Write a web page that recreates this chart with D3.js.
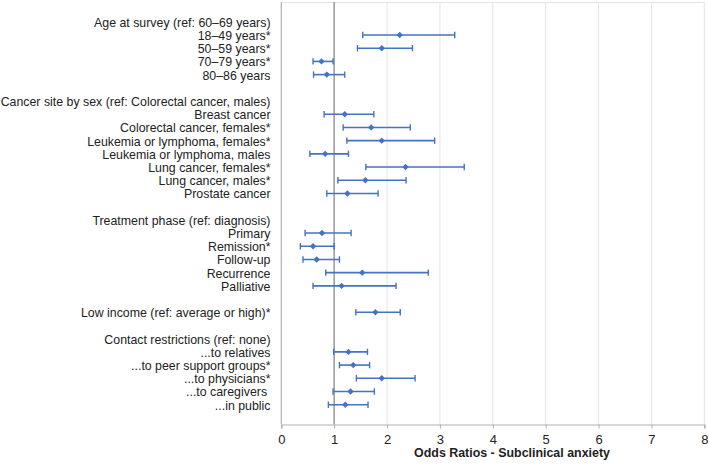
<!DOCTYPE html>
<html>
<head>
<meta charset="utf-8">
<script src="https://cdn.jsdelivr.net/npm/d3@7"></script>
<style>
  html, body { margin: 0; padding: 0; background: #fff; }
  svg { display: block; font-family: "Liberation Sans", Arial, Helvetica, sans-serif; }
</style>
</head>
<body>
<svg id="chart" width="709" height="468"></svg>
<script>
// Row labels (headers have null values; "" = blank spacer row)
const labels = [
  "Age at survey (ref: 60\u201369 years)",
  "18\u201349 years*",
  "50\u201359 years*",
  "70\u201379 years*",
  "80\u201386 years",
  "",
  "Cancer site by sex (ref: Colorectal cancer, males)",
  "Breast cancer",
  "Colorectal cancer, females*",
  "Leukemia or lymphoma, females*",
  "Leukemia or lymphoma, males",
  "Lung cancer, females*",
  "Lung cancer, males*",
  "Prostate cancer",
  "",
  "Treatment phase (ref: diagnosis)",
  "Primary",
  "Remission*",
  "Follow-up",
  "Recurrence",
  "Palliative",
  "",
  "Low income (ref: average or high)*",
  "",
  "Contact restrictions (ref: none)",
  "...to relatives",
  "...to peer support groups*",
  "...to physicians*",
  "...to caregivers ",
  "...in public"
];
const oddsRatio = [null,2.24,1.90,0.76,0.86,null,null,1.20,1.70,1.90,0.83,2.35,1.59,1.25,null,null,0.77,0.60,0.67,1.53,1.14,null,1.78,null,null,1.27,1.36,1.90,1.31,1.21];
const ciLow     = [null,1.54,1.44,0.60,0.61,null,null,0.81,1.17,1.24,0.54,1.60,1.07,0.86,null,null,0.45,0.36,0.41,0.84,0.60,null,1.41,null,null,0.99,1.10,1.42,0.98,0.89];
const ciHigh    = [null,3.28,2.48,0.98,1.20,null,null,1.75,2.44,2.90,1.27,3.46,2.36,1.83,null,null,1.32,1.00,1.10,2.78,2.17,null,2.25,null,null,1.63,1.67,2.53,1.76,1.64];
const xTicks = [0,1,2,3,4,5,6,7,8];
const xTitle = "Odds Ratios - Subclinical anxiety";
const refValue = 1;

(function () {
const svg = d3.select("#chart");
const pLeft = 281.3, pRight = 704.3, pTop = 2, pBottom = 424.5;

const x = d3.scaleLinear().domain([0, 8]).range([pLeft, pRight]);
// 30 rows plus one empty slot above and below
const idx = d3.range(-1, labels.length + 1);
const y = d3.scalePoint().domain(idx).range([pTop, pBottom]).padding(0.5);

const blue = "#4472C4";

// gridlines
svg.append("g").selectAll("line").data(xTicks.filter(d => d > 0)).join("line")
  .attr("x1", d => x(d)).attr("x2", d => x(d))
  .attr("y1", pTop).attr("y2", pBottom)
  .attr("stroke", "#e3e3e3").attr("stroke-width", 1);
// top border
svg.append("line").attr("x1", pLeft).attr("x2", pRight).attr("y1", pTop + 0.5).attr("y2", pTop + 0.5)
  .attr("stroke", "#e3e3e3");

// reference line at 1
svg.append("line").attr("x1", x(refValue)).attr("x2", x(refValue))
  .attr("y1", pTop).attr("y2", pBottom)
  .attr("stroke", "#a0a0a0").attr("stroke-width", 1.6);

// x axis
const xAxis = d3.axisBottom(x).tickValues(xTicks).tickSize(4).tickPadding(6).tickFormat(d3.format("d"));
const gx = svg.append("g").attr("transform", `translate(0,${pBottom})`).call(xAxis);
gx.select(".domain").attr("stroke", "#b0b0b0").attr("stroke-width", 1.2);
gx.selectAll(".tick line").attr("stroke", "#b0b0b0");
gx.selectAll(".tick text").attr("font-size", 13).attr("fill", "#222")
  .attr("font-family", "'Liberation Sans', Arial, sans-serif");

// y axis line (left)
svg.append("line").attr("x1", pLeft).attr("x2", pLeft).attr("y1", pTop).attr("y2", pBottom)
  .attr("stroke", "#b0b0b0").attr("stroke-width", 1.2);

// labels (drawn at natural size, then squeezed horizontally to fit the label column)
const labelRight = 270.5, labelWidth = 270;
const lg = svg.append("g").attr("transform", `translate(${labelRight},0)`);
const lt = lg.selectAll("text").data(labels.map((l, i) => ({l, i})).filter(d => d.l !== ""))
  .join("text")
  .attr("x", 0).attr("y", d => y(d.i))
  .attr("dy", "0.36em")
  .attr("text-anchor", "end")
  .attr("font-size", 13.6).attr("fill", "#222")
  .style("white-space", "pre")
  .text(d => d.l);
let maxW = 0;
lt.each(function () { maxW = Math.max(maxW, this.getComputedTextLength()); });
const sx = Math.min(1, labelWidth / maxW);
lg.attr("transform", `translate(${labelRight},0) scale(${sx},1)`);

// data
const rows = labels.map((l, i) => ({i, or: oddsRatio[i], lo: ciLow[i], hi: ciHigh[i]})).filter(d => d.or != null);
const g = svg.append("g");
g.selectAll("line.ci").data(rows).join("line").attr("class", "ci")
  .attr("x1", d => x(d.lo)).attr("x2", d => x(d.hi))
  .attr("y1", d => y(d.i)).attr("y2", d => y(d.i))
  .attr("stroke", blue).attr("stroke-width", 1.6);
const capH = 3.2;
["lo", "hi"].forEach(k => {
  g.selectAll("line.cap" + k).data(rows).join("line").attr("class", "cap" + k)
    .attr("x1", d => x(d[k])).attr("x2", d => x(d[k]))
    .attr("y1", d => y(d.i) - capH).attr("y2", d => y(d.i) + capH)
    .attr("stroke", blue).attr("stroke-width", 1.4);
});
g.selectAll("path.pt").data(rows).join("path").attr("class", "pt")
  .attr("transform", d => `translate(${x(d.or)},${y(d.i)})`)
  .attr("d", d3.symbol(d3.symbolDiamond2, 26)())
  .attr("fill", blue);

// title
const tt = svg.append("text").attr("x", 0).attr("y", 0)
  .attr("text-anchor", "middle").attr("font-size", 13).attr("font-weight", "bold")
  .attr("fill", "#222").text(xTitle);
const tw = tt.node().getComputedTextLength();
tt.attr("transform", `translate(512,457) scale(${Math.min(1, 196 / tw)},1)`);
})();
</script>
</body>
</html>
